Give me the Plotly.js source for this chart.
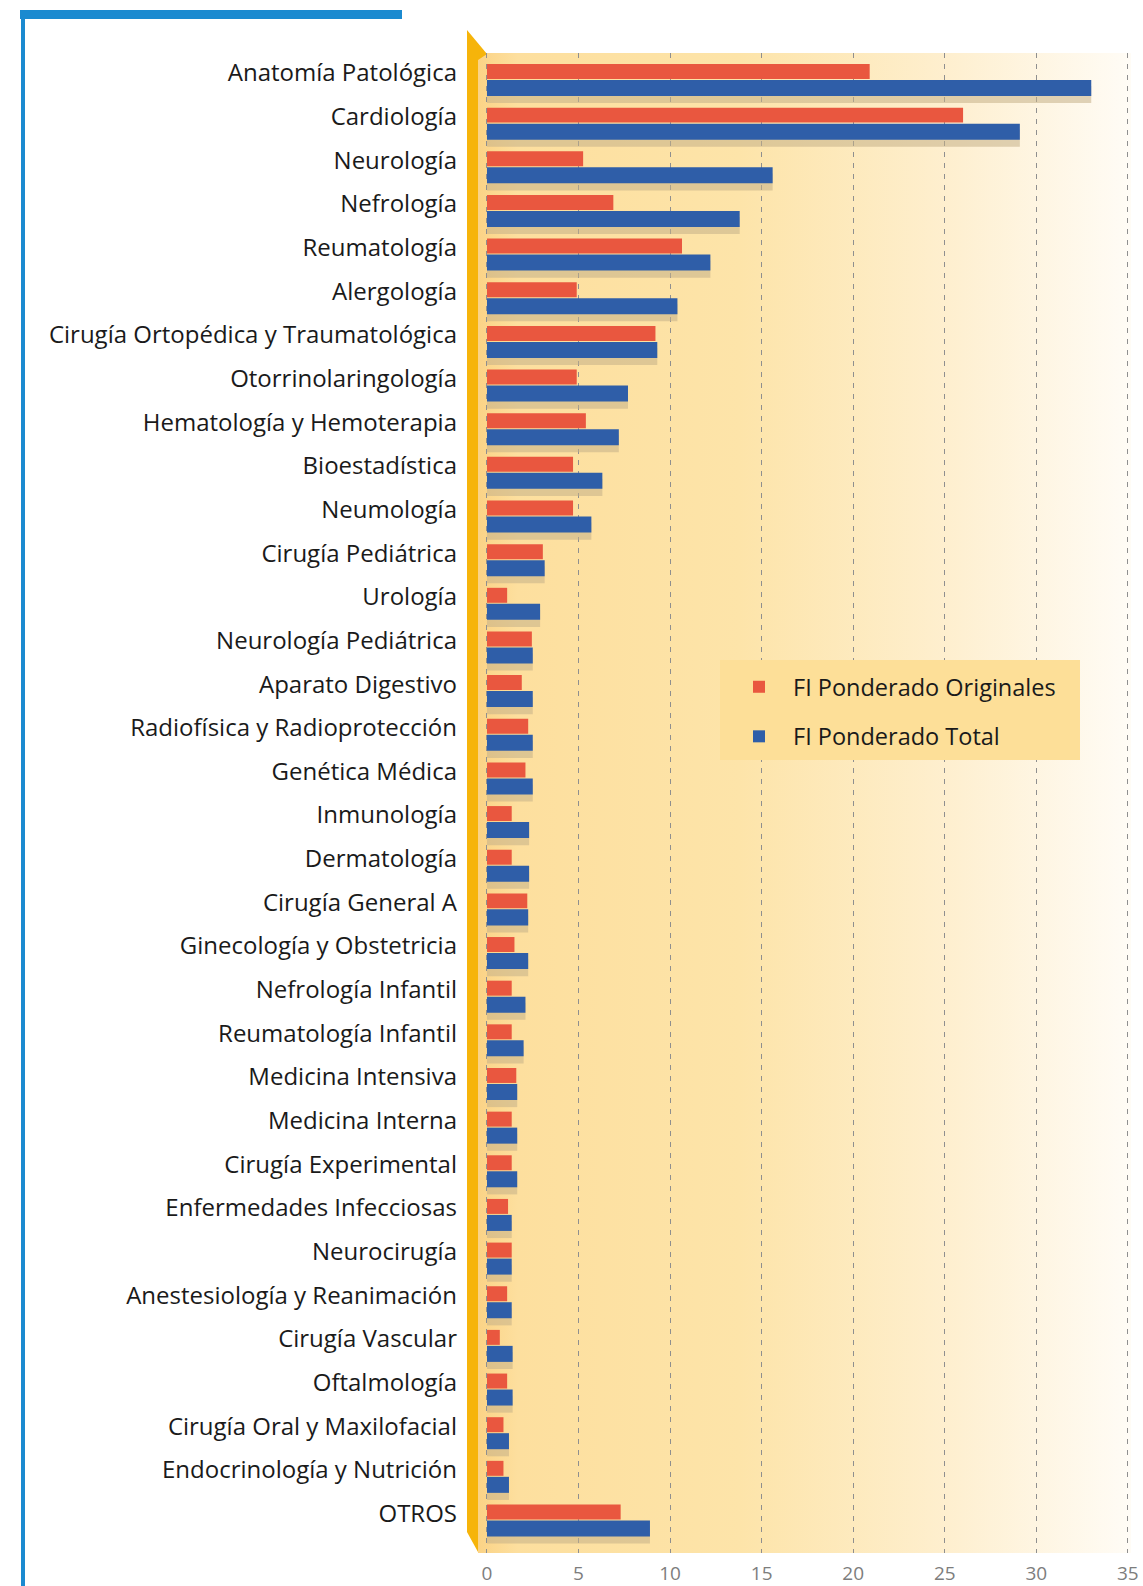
<!DOCTYPE html>
<html><head><meta charset="utf-8">
<script src="https://cdn.plot.ly/plotly-3.0.1.min.js"></script>
<style>html,body{margin:0;padding:0;background:#fff}</style>
</head><body><div id="chart" style="width:1143px;height:1586px"></div>
<script>
const categories = ["Anatomía Patológica","Cardiología","Neurología","Nefrología","Reumatología","Alergología","Cirugía Ortopédica y Traumatológica","Otorrinolaringología","Hematología y Hemoterapia","Bioestadística","Neumología","Cirugía Pediátrica","Urología","Neurología Pediátrica","Aparato Digestivo","Radiofísica y Radioprotección","Genética Médica","Inmunología","Dermatología","Cirugía General A","Ginecología y Obstetricia","Nefrología Infantil","Reumatología Infantil","Medicina Intensiva","Medicina Interna","Cirugía Experimental","Enfermedades Infecciosas","Neurocirugía","Anestesiología y Reanimación","Cirugía Vascular","Oftalmología","Cirugía Oral y Maxilofacial","Endocrinología y Nutrición","OTROS"];
const originales = [20.9,26.0,5.25,6.9,10.65,4.9,9.2,4.9,5.4,4.7,4.7,3.05,1.1,2.45,1.9,2.25,2.1,1.35,1.35,2.2,1.5,1.35,1.35,1.6,1.35,1.35,1.15,1.35,1.1,0.7,1.1,0.9,0.9,7.3];
const total = [33.0,29.1,15.6,13.8,12.2,10.4,9.3,7.7,7.2,6.3,5.7,3.15,2.9,2.5,2.5,2.5,2.5,2.3,2.3,2.25,2.25,2.1,2.0,1.65,1.65,1.65,1.35,1.35,1.35,1.4,1.4,1.2,1.2,8.9];
const xTicks = [0,5,10,15,20,25,30,35];
const seriesNames = ["FI Ponderado Originales","FI Ponderado Total"];

const FONT = "'Open Sans', Lato, sans-serif";
const W=1143, H=1586, L=475, R=1133, T=53, B=1553;
const pw=R-L, ph=B-T;
const px=(x)=>(x-L)/pw, py=(y)=>(B-y)/ph;

const wallSvg = '<svg xmlns="http://www.w3.org/2000/svg" width="660" height="1500" viewBox="0 0 660 1500" preserveAspectRatio="none"><defs><linearGradient id="g" x1="0" y1="0" x2="1" y2="0"><stop offset="0" stop-color="#fbd386"/><stop offset="0.06" stop-color="#fddf9e"/><stop offset="0.4" stop-color="#fde4a9"/><stop offset="0.72" stop-color="#feefcf"/><stop offset="1" stop-color="#fffcf6"/></linearGradient></defs><rect width="660" height="1500" fill="url(#g)"/></svg>';

const traces = [
  {type:'bar', orientation:'h', y:categories, x:total, offset:0.3, width:0.39,
   marker:{color:'rgba(196,176,136,0.55)'}, showlegend:false, hoverinfo:'skip'},
  {type:'bar', orientation:'h', y:categories, x:originales, name:seriesNames[0], legendgroup:'a',
   offset:-0.206, width:0.343, marker:{color:'#e9573f'}},
  {type:'bar', orientation:'h', y:categories, x:total, name:seriesNames[1], legendgroup:'b',
   offset:0.16, width:0.367, marker:{color:'#2f5ea8'}}
];

const layout = {
  width:W, height:H,
  margin:{l:L, r:W-R, t:T, b:H-B, pad:0},
  paper_bgcolor:'#ffffff', plot_bgcolor:'rgba(0,0,0,0)',
  barmode:'overlay',
  font:{family:FONT, color:'#1a1a1a'},
  xaxis:{range:[-0.655,35.28], tickvals:xTicks, ticktext:xTicks.map(String), showgrid:true,
    gridcolor:'#8f8f8f', gridwidth:1, griddash:'5px,6px', zeroline:false, showline:false,
    ticks:'', ticklabelstandoff:7, tickfont:{family:FONT, size:19, color:'#7d7d7d'}},
  yaxis:{type:'category', range:[33.905,-0.458], showgrid:false, zeroline:false, showline:false,
    ticks:'', ticklabelstandoff:17, tickfont:{family:FONT, size:24, color:'#1a1a1a'}},
  legend:{x:px(720), y:py(660), xanchor:'left', yanchor:'top', bgcolor:'rgba(0,0,0,0)', borderwidth:5, bordercolor:'rgba(0,0,0,0)',
    font:{family:FONT, size:23.5, color:'#1a1a1a'}, itemwidth:58, tracegroupgap:16, traceorder:'grouped'},
  images:[{source:'data:image/svg+xml;charset=utf-8,'+encodeURIComponent(wallSvg), xref:'paper', yref:'paper',
    x:px(478), y:py(T), sizex:(1131-478)/pw, sizey:1, xanchor:'left', yanchor:'top', sizing:'stretch', layer:'below'}],
  shapes:[
    {type:'path', xref:'paper', yref:'paper', layer:'below', line:{width:0}, fillcolor:'#f6b40a',
     path:`M ${px(467)},${py(30)} L ${px(487)},${py(54)} L ${px(478)},${py(60)} L ${px(478)},${py(1552)} L ${px(467)},${py(1532)} Z`},
    {type:'rect', xref:'paper', yref:'paper', layer:'below', line:{width:0}, fillcolor:'#1b8ad0',
     x0:px(20), x1:px(402), y0:py(19), y1:py(10)},
    {type:'rect', xref:'paper', yref:'paper', layer:'below', line:{width:0}, fillcolor:'#1b8ad0',
     x0:px(21), x1:px(25), y0:py(1586), y1:py(10)},
    {type:'rect', xref:'paper', yref:'paper', layer:'above', line:{width:0}, fillcolor:'#fddf98',
     x0:px(720), x1:px(1080), y0:py(760), y1:py(660)}
  ]
};

Plotly.newPlot('chart', traces, layout, {displayModeBar:false, staticPlot:true});
</script></body></html>
